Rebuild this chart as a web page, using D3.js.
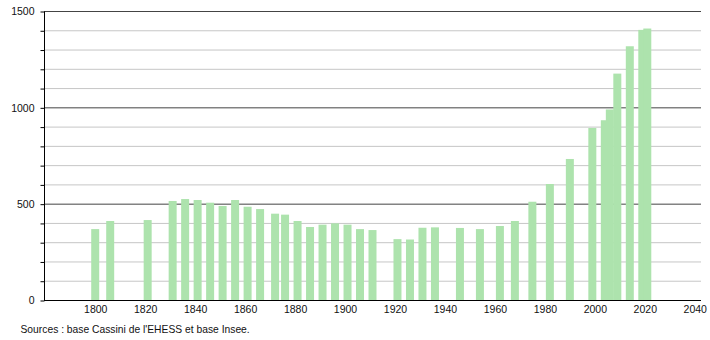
<!DOCTYPE html>
<html lang="fr">
<head>
    <meta charset="UTF-8">
    <title>Évolution démographique</title>
    <script src="https://cdn.jsdelivr.net/npm/d3@7"></script>
    <style>
        body { margin: 0; background: #fff; }
        text { font-family: "Liberation Sans", Arial, sans-serif; }
    </style>
</head>
<body>

<script>
    // recensements (years) and population
    var years = [1800, 1806, 1821, 1831, 1836, 1841, 1846, 1851, 1856, 1861,
        1866, 1872, 1876, 1881, 1886, 1891, 1896, 1901, 1906, 1911,
        1921, 1926, 1931, 1936, 1946, 1954, 1962, 1968, 1975, 1982,
        1990, 1999, 2004, 2006, 2009, 2014, 2019, 2021];
    var population = [368, 410, 415, 514, 524, 519, 505, 488, 519, 484,
        472, 448, 443, 410, 379, 391, 398, 391, 368, 363,
        316, 314, 375, 377, 374, 368, 384, 410, 510, 602,
        732, 893, 933, 989, 1175, 1317, 1402, 1409];
    var yearTicks = [1800, 1820, 1840, 1860, 1880, 1900, 1920, 1940, 1960, 1980, 2000, 2020, 2040];
    var popTicks = [0, 500, 1000, 1500];
    var source = "Sources : base Cassini de l'EHESS et base Insee.";

    var data = years.map(function (y, i) {
        return {year: y, pop: population[i]};
    });

    var svg = d3.select("body").append("svg")
        .attr("width", 710)
        .attr("height", 340);

    var x = d3.scaleLinear()
        .domain([1779.5, 2042.5])
        .range([44, 701]);

    var y = d3.scaleLinear()
        .domain([0, 1500])
        .range([300, 11]);

    // grid lines every 100, darker every 500
    var minor = d3.range(100, 1500, 100).filter(function (d) {
        return d % 500 !== 0;
    });

    svg.append("g").selectAll("line")
        .data(minor)
        .enter()
        .append("line")
        .attr("x1", x.range()[0])
        .attr("x2", x.range()[1])
        .attr("y1", function (d) { return y(d) + 0.5; })
        .attr("y2", function (d) { return y(d) + 0.5; })
        .attr("stroke", "#c6c6c6")
        .attr("stroke-width", 1);

    svg.append("g").selectAll("line")
        .data(popTicks.slice(1))
        .enter()
        .append("line")
        .attr("x1", x.range()[0])
        .attr("x2", x.range()[1])
        .attr("y1", function (d) { return y(d) + 0.5; })
        .attr("y2", function (d) { return y(d) + 0.5; })
        .attr("stroke", "#444")
        .attr("stroke-width", 1);

    // bars (about 3.2 years wide)
    svg.append("g").selectAll("rect")
        .data(data)
        .enter()
        .append("rect")
        .attr("x", function (d) { return x(d.year - 1.6); })
        .attr("width", function (d) { return x(d.year + 1.6) - x(d.year - 1.6); })
        .attr("y", function (d) { return y(d.pop); })
        .attr("height", function (d) { return y(0) - y(d.pop); })
        .attr("fill", "#ade3ad");

    // left axis with minor ticks
    var axisLeft = d3.axisLeft(y)
        .tickValues(d3.range(0, 1501, 100))
        .tickSize(4)
        .tickPadding(6)
        .tickFormat(function (d) {
            return popTicks.indexOf(d) >= 0 ? d : "";
        });

    var gy = svg.append("g")
        .attr("transform", "translate(44.5,0.5)")
        .call(axisLeft);
    gy.select(".domain").attr("d", "M0," + y(1500) + "V" + y(0)).attr("stroke", "#000");
    gy.selectAll(".tick line").attr("stroke", "#000");
    gy.selectAll("text")
        .attr("font-size", "10.5px")
        .attr("font-family", "Liberation Sans, Arial, sans-serif")
        .attr("fill", "#111");

    // bottom axis, labels only
    var axisBottom = d3.axisBottom(x)
        .tickValues(yearTicks)
        .tickSize(0)
        .tickPadding(5)
        .tickFormat(d3.format("d"));

    var gx = svg.append("g")
        .attr("transform", "translate(0,300.5)")
        .call(axisBottom);
    gx.select(".domain").attr("d", "M" + x.range()[0] + ",0H" + x.range()[1]).attr("stroke", "#000");
    gx.selectAll("text")
        .attr("font-size", "10.5px")
        .attr("font-family", "Liberation Sans, Arial, sans-serif")
        .attr("fill", "#111");

    svg.append("text")
        .attr("x", 20.5)
        .attr("y", 333)
        .attr("font-size", "10.3px")
        .attr("fill", "#111")
        .text(source);
</script>
</body>
</html>
